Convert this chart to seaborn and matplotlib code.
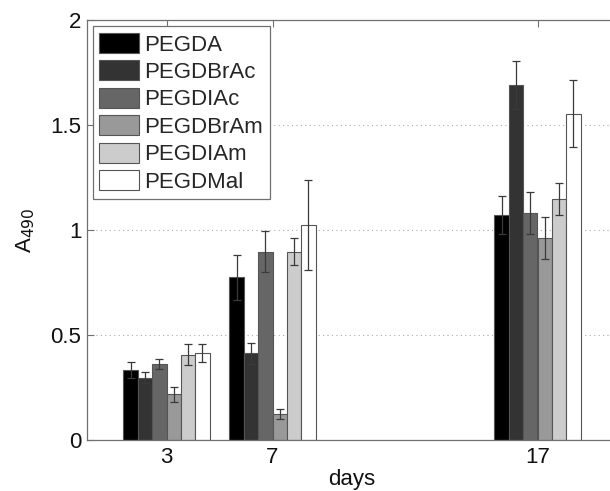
import matplotlib
matplotlib.use("Agg")
import matplotlib.pyplot as plt
from matplotlib.patches import Patch
from matplotlib.ticker import FuncFormatter
import seaborn as sns
import pandas as pd
import numpy as np

days = [3, 7, 17]
series = ["PEGDA", "PEGDBrAc", "PEGDIAc", "PEGDBrAm", "PEGDIAm", "PEGDMal"]
colors = ["#000000", "#333333", "#666666", "#999999", "#cccccc", "#ffffff"]
values = {
    "PEGDA":    [0.333, 0.775, 1.071],
    "PEGDBrAc": [0.297, 0.413, 1.690],
    "PEGDIAc":  [0.362, 0.897, 1.079],
    "PEGDBrAm": [0.217, 0.125, 0.962],
    "PEGDIAm":  [0.406, 0.897, 1.148],
    "PEGDMal":  [0.413, 1.024, 1.554],
}
errors = {
    "PEGDA":    [0.037, 0.107, 0.090],
    "PEGDBrAc": [0.027, 0.050, 0.114],
    "PEGDIAc":  [0.022, 0.097, 0.100],
    "PEGDBrAm": [0.037, 0.024, 0.100],
    "PEGDIAm":  [0.049, 0.063, 0.077],
    "PEGDMal":  [0.042, 0.214, 0.160],
}
yticks = [0, 0.5, 1, 1.5, 2]

rows = []
for s in series:
    for d, v in zip(days, values[s]):
        rows.append({"day": d, "series": s, "value": v})
df = pd.DataFrame(rows)

sns.set_theme(style="white")
plt.rcParams["font.family"] = ["Liberation Sans", "DejaVu Sans"]

FS = 16

fig = plt.figure(figsize=(6.10, 4.91), dpi=100)
ax = fig.add_axes([87 / 610, 1 - 440 / 491, 530 / 610, 420 / 491])

sns.barplot(data=df, x="day", y="value", hue="series", hue_order=series,
            palette=colors, native_scale=True, width=0.815, errorbar=None,
            edgecolor="#555555", linewidth=0.8, saturation=1, legend=False, ax=ax)

for i, s in enumerate(series):
    bars = sorted(ax.containers[i], key=lambda b: b.get_x())
    xs = [b.get_x() + b.get_width() / 2 for b in bars]
    hs = [b.get_height() for b in bars]
    ax.errorbar(xs, hs, yerr=errors[s], fmt="none", ecolor="#3a3a3a",
                elinewidth=0.9, capsize=3.2, capthick=0.9, zorder=5)

ax.set_xlim(0, 20)
ax.set_ylim(0, 2)
ax.set_xticks(days)
ax.set_xticklabels([str(d) for d in days])
ax.set_yticks(yticks)
ax.yaxis.set_major_formatter(FuncFormatter(lambda v, p: f"{v:g}"))
ax.yaxis.grid(True, linestyle=(0, (1, 3)), color="#aaaaaa", linewidth=0.8)
ax.set_axisbelow(True)

for sp in ax.spines.values():
    sp.set_color("#707070")
    sp.set_linewidth(0.9)

ax.tick_params(axis="both", direction="in", length=5, width=0.8, color="#707070",
               labelsize=FS, labelcolor="#111111",
               left=True, bottom=True, top=True, right=False)
ax.tick_params(axis="y", pad=4)
ax.tick_params(axis="x", pad=5)

ax.set_xlabel("days", fontsize=FS, color="#111111", labelpad=1)
ax.set_ylabel("A$_{490}$", fontsize=FS, color="#111111", labelpad=10)

handles = [Patch(facecolor=c, edgecolor="#555555", linewidth=0.8) for c in colors]
leg = ax.legend(handles, series, loc="upper left", bbox_to_anchor=(0.011, 0.985),
                fontsize=FS, frameon=True, fancybox=False, framealpha=1,
                edgecolor="#707070", handlelength=1.8, handleheight=1.0,
                handletextpad=0.22, labelspacing=0.22, borderpad=0.3,
                borderaxespad=0)
leg.get_frame().set_linewidth(0.9)

fig.savefig("out.png", dpi=100, facecolor="white")
